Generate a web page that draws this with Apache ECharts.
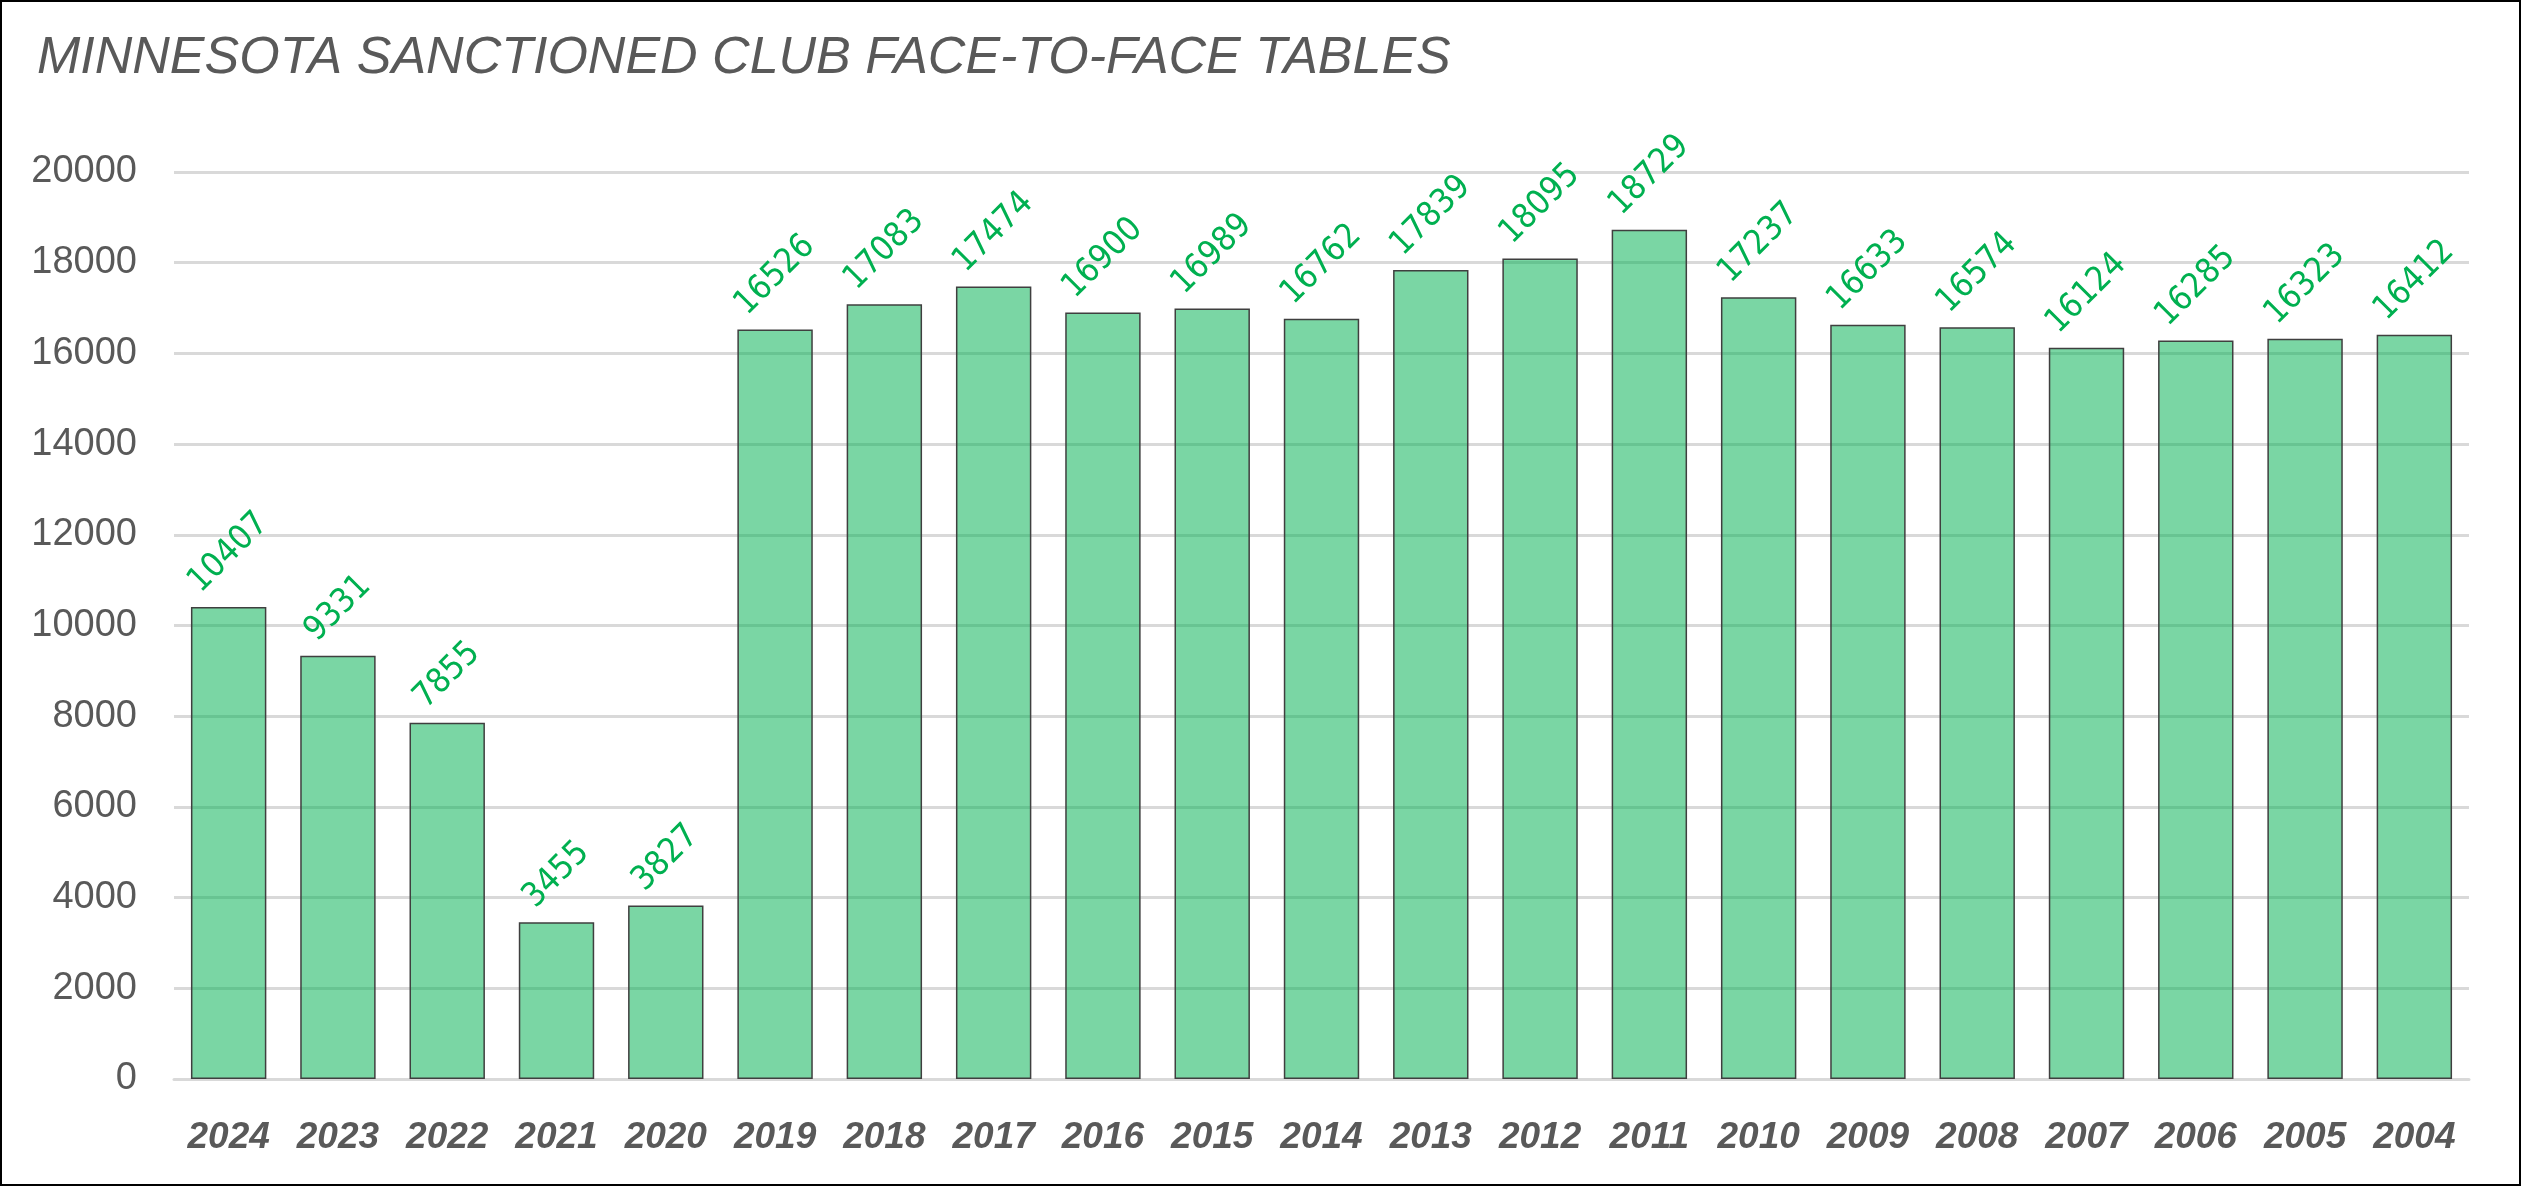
<!DOCTYPE html>
<html lang="en">
<head>
    <meta charset="UTF-8">
    <title>Minnesota Sanctioned Club Face-to-Face Tables</title>
    <script src="https://cdn.jsdelivr.net/npm/echarts@6/dist/echarts.min.js"></script>
    <style>
        html, body {
            margin: 0;
            padding: 0;
            background: #ffffff;
        }
        #chart {
            width: 2521px;
            height: 1186px;
            box-sizing: border-box;
            border: 2px solid #000000;
        }
    </style>
</head>
<body>

<div id="chart"></div>

<script>
    const years = ['2024', '2023', '2022', '2021', '2020', '2019', '2018', '2017', '2016', '2015', '2014',
        '2013', '2012', '2011', '2010', '2009', '2008', '2007', '2006', '2005', '2004'];
    const tables = [10407, 9331, 7855, 3455, 3827, 16526, 17083, 17474, 16900, 16989, 16762,
        17839, 18095, 18729, 17237, 16633, 16574, 16124, 16285, 16323, 16412];

    const labelSize = 34;

    // rotated label: keep its bounding box centred just above the bar
    function labelDistance(v) {
        const n = String(v).length;
        const w = n * 0.572 * labelSize;
        const h = 0.73 * labelSize;
        return 11 + (w + h) / (2 * Math.SQRT2);
    }

    const chart = echarts.init(document.getElementById('chart'));
    chart.setOption({
        animation: false,
        title: {
            text: 'MINNESOTA SANCTIONED CLUB FACE-TO-FACE TABLES',
            left: 30,
            top: 26,
            textStyle: {
                fontFamily: '"Liberation Sans", Arial, sans-serif',
                fontStyle: 'italic',
                fontWeight: 'normal',
                fontSize: 52,
                color: '#595959'
            }
        },
        grid: {
            left: 172,
            right: 50,
            top: 170,
            bottom: 105
        },
        xAxis: {
            type: 'category',
            data: years,
            axisLine: { show: true, lineStyle: { color: '#d9d9d9', width: 3 } },
            axisTick: { show: false },
            axisLabel: {
                margin: 40,
                fontFamily: '"Liberation Sans", Arial, sans-serif',
                fontStyle: 'italic',
                fontWeight: 'bold',
                fontSize: 37,
                color: '#595959'
            }
        },
        yAxis: {
            type: 'value',
            min: 0,
            max: 20000,
            interval: 2000,
            axisLine: { show: false },
            axisTick: { show: false },
            splitLine: { lineStyle: { color: '#d9d9d9', width: 3 } },
            axisLabel: {
                margin: 37,
                formatter: v => String(v),
                fontFamily: '"Liberation Sans", Arial, sans-serif',
                fontSize: 38,
                color: '#595959'
            }
        },
        series: [{
            type: 'bar',
            barCategoryGap: '31%',
            data: tables.map(v => ({ value: v, label: { distance: labelDistance(v) } })),
            itemStyle: {
                color: 'rgba(0, 176, 80, 0.52)',
                borderColor: '#3f3f3f',
                borderWidth: 1.5
            },
            label: {
                show: true,
                position: 'top',
                rotate: 45,
                align: 'center',
                verticalAlign: 'middle',
                fontFamily: '"DejaVu Sans Condensed", "DejaVu Sans", sans-serif',
                fontSize: labelSize,
                color: '#00b050'
            }
        }]
    });
</script>
</body>
</html>
